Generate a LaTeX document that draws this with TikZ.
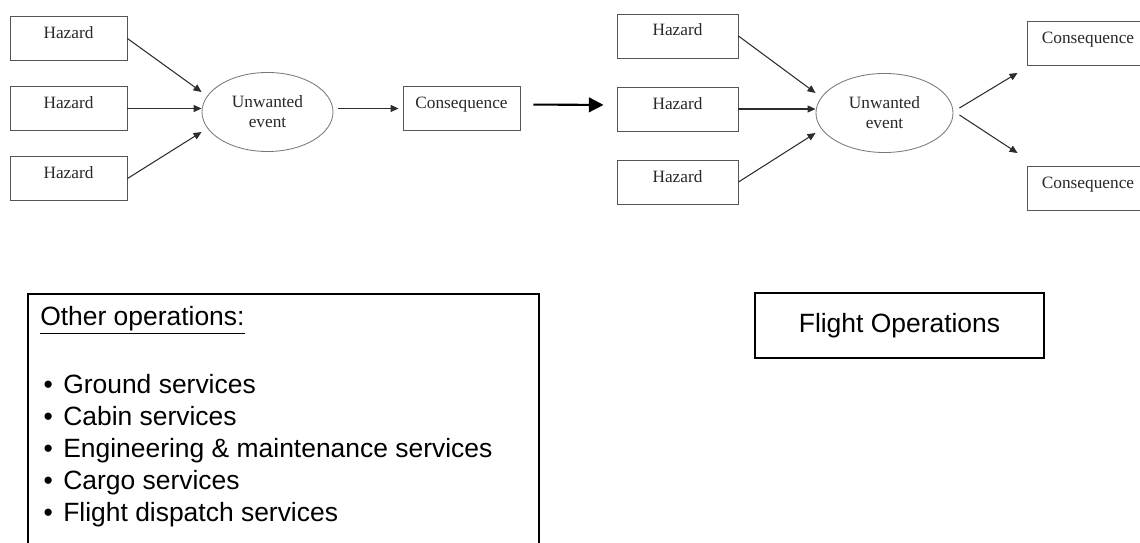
\documentclass[tikz,border=0pt]{standalone}
\usepackage{fontspec}
\setmainfont{Liberation Serif}
\newfontfamily\opsfont{Liberation Sans}
\usetikzlibrary{shapes.geometric,arrows.meta}
\definecolor{boxgray}{RGB}{85,85,85}
\definecolor{ringgray}{RGB}{120,120,120}
\definecolor{arrowgray}{RGB}{45,45,45}
\definecolor{textgray}{RGB}{40,40,40}
\newcommand{\opsbullet}{\makebox[0.575cm][l]{\hspace{0.085cm}\textbullet}}
\tikzset{box style/.style={
		draw=boxgray,
		line width=0.6pt,
		rectangle,
		minimum width=#1,
		inner ysep=0pt,
		text height=0.55cm,
		text depth=0.55cm,
		text=textgray,
		font=\fontsize{12.3}{14.3}\selectfont,
	},
	box style/.default=2.925cm,
	event style/.style={
		draw=ringgray,
		line width=0.6pt,
		ellipse,
		inner sep=0pt,
		minimum width=#1,
		minimum height=1.975cm,
		align=center,
		text=textgray,
		font=\fontsize{12.3}{14.2}\selectfont,
	},
	ops text/.style={
		text=black,
		font=\opsfont\fontsize{18.8}{22.76}\selectfont,
	},
	ops style/.style={
		ops text,
		draw=black,
		line width=1.1pt,
		rectangle,
	},
	arrow style/.style={
		->,
		draw=arrowgray,
		line width=0.75pt,
	},
	big arrow style/.style={
		-{Triangle[length=10.5pt,width=10.5pt]},
		draw=black,
		line width=1.5pt,
	}
}

\begin{document}
\begin{tikzpicture}[x=0.025cm, y=-0.025cm, >={Triangle[length=5.7pt,width=5pt]}]
	\useasboundingbox (0,0) rectangle (1140,543);
	\clip (0,0) rectangle (1140,543);
	
	% left chain
	\node[box style] (HazardA1) at (68.5,38.5) {Hazard};
	\node[box style, below of=HazardA1, node distance=1.75cm] (HazardA2) {Hazard};
	\node[box style, below of=HazardA2, node distance=1.75cm] (HazardA3) {Hazard};
	\node[event style=3.275cm] (EventA) at (267.5,112) {Unwanted\\event};
	\node[box style] (ConseqA) at (461.5,108.5) {Consequence};
	
	\draw[arrow style] (HazardA1.east) -- ([yshift=0.5cm]EventA.west);
	\draw[arrow style] (HazardA2.east) -- (EventA.west |- HazardA2.east);
	\draw[arrow style] (HazardA3.east) -- ([yshift=-0.5cm]EventA.west);
	\draw[arrow style, shorten <=0.125cm, shorten >=0.1cm] (EventA.east |- ConseqA.west) -- (ConseqA.west);
	
	% right chain
	\node[box style=3.025cm] (HazardB1) at (677.5,36) {Hazard};
	\node[box style=3.025cm, below of=HazardB1, node distance=1.825cm] (HazardB2) {Hazard};
	\node[box style=3.025cm, below of=HazardB2, node distance=1.825cm] (HazardB3) {Hazard};
	\node[event style=3.425cm] (EventB) at (884.5,113) {Unwanted\\event};
	\node[box style=3.05cm] (ConseqB1) at (1088,43.5) {Consequence};
	\node[box style=3.05cm] (ConseqB2) at (1088,188.5) {Consequence};
	
	\draw[big arrow style, shorten <=0.325cm, shorten >=0.325cm] ([yshift=0.1cm]ConseqA.east) -- ([yshift=0.1cm]HazardB2.west);
	
	\draw[arrow style] (HazardB1.east) -- ([yshift=0.5cm]EventB.west);
	\draw[arrow style] (HazardB2.east) -- (EventB.west |- HazardB2.east);
	\draw[arrow style] (HazardB3.east) -- ([yshift=-0.5cm]EventB.west);
	\draw[arrow style] ([shift={(0.15cm,0.125cm)}]EventB.east) -- ([shift={(-0.225cm,-0.175cm)}]ConseqB1.south west);
	\draw[arrow style] ([shift={(0.15cm,-0.05cm)}]EventB.east) -- ([shift={(-0.225cm,0.325cm)}]ConseqB2.north west);
	
	% operations
	\node[ops style, anchor=north west, minimum width=12.775cm, minimum height=7cm] (OtherOps) at (27,293) {};
	\node[ops text, anchor=north west, inner sep=0pt, align=left] (OtherList) at (40,306) {\underline{Other operations:}\\[0.89cm]
		\opsbullet Ground services\\
		\opsbullet Cabin services\\
		\opsbullet Engineering \& maintenance services\\
		\opsbullet Cargo services\\
		\opsbullet Flight dispatch services};
	\node[ops style, minimum width=7.225cm, minimum height=1.625cm] (FlightOps) at (899.5,325.5) {Flight Operations};
\end{tikzpicture}
\end{document}
